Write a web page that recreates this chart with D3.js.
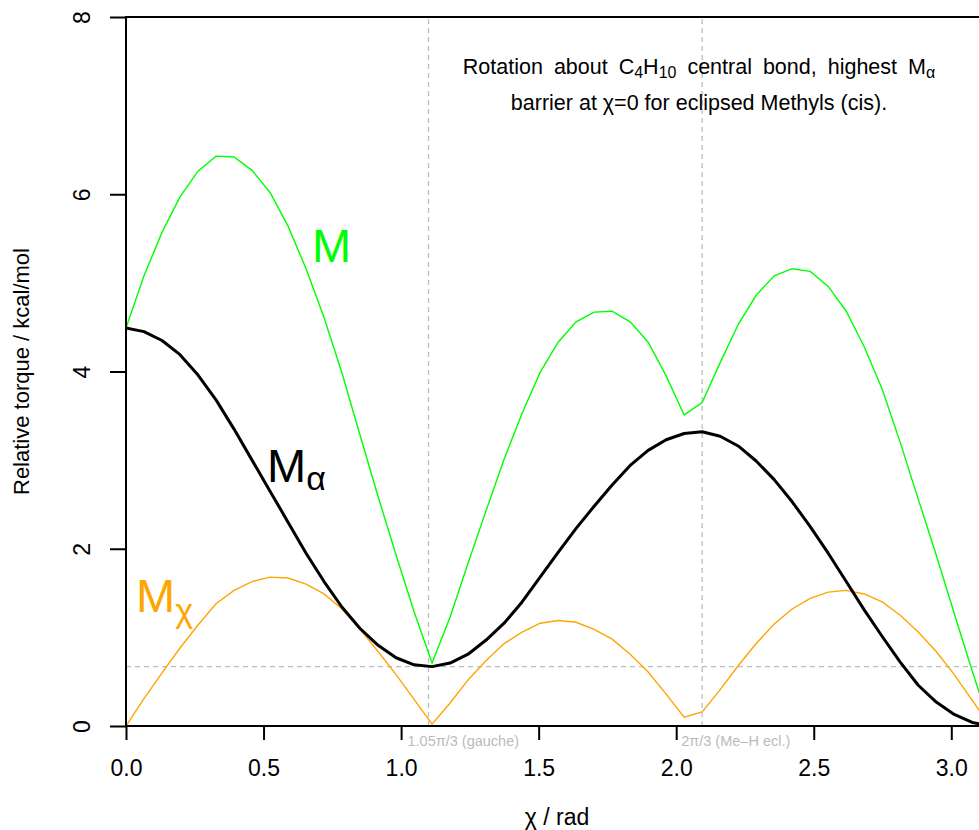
<!DOCTYPE html>
<html>
<head>
<meta charset="utf-8">
<script src="https://cdn.jsdelivr.net/npm/d3@7"></script>
<style>
  html, body { margin: 0; padding: 0; background: #fff; }
  svg { display: block; font-family: "Liberation Sans", Arial, Helvetica, sans-serif; }
</style>
</head>
<body>
<svg id="chart" width="979" height="830"></svg>
<script>
// ---- data ----
const chi = [0, 0.0654, 0.1309, 0.1963, 0.2618, 0.3272, 0.3927, 0.4581, 0.5236, 0.5890,
  0.6545, 0.7199, 0.7854, 0.8508, 0.9163, 0.9817, 1.0472, 1.1126, 1.1781, 1.2435,
  1.3090, 1.3744, 1.4399, 1.5053, 1.5708, 1.6362, 1.7017, 1.7671, 1.8326, 1.8980,
  1.9635, 2.0289, 2.0944, 2.1598, 2.2253, 2.2907, 2.3562, 2.4216, 2.4871, 2.5525,
  2.6180, 2.6834, 2.7489, 2.8143, 2.8798, 2.9452, 3.0107, 3.0761, 3.1416];

const M = [4.49, 5.08, 5.57, 5.97, 6.26, 6.43, 6.42, 6.27, 6.02, 5.64,
  5.16, 4.61, 3.98, 3.28, 2.59, 1.93, 1.29, 0.71, 1.23, 1.84,
  2.43, 3.01, 3.53, 3.99, 4.33, 4.56, 4.67, 4.68, 4.56, 4.33,
  3.95, 3.51, 3.65, 4.10, 4.53, 4.86, 5.08, 5.16, 5.13, 4.96,
  4.68, 4.28, 3.80, 3.20, 2.56, 1.93, 1.27, 0.62, 0.00];

const Malpha = [4.49, 4.45, 4.35, 4.19, 3.96, 3.68, 3.35, 3.00, 2.65, 2.30,
  1.95, 1.63, 1.34, 1.10, 0.91, 0.77, 0.69, 0.67, 0.71, 0.81,
  0.97, 1.16, 1.40, 1.68, 1.96, 2.23, 2.48, 2.72, 2.94, 3.11,
  3.23, 3.30, 3.32, 3.27, 3.16, 2.99, 2.78, 2.53, 2.25, 1.95,
  1.63, 1.31, 1.01, 0.72, 0.46, 0.27, 0.13, 0.04, 0.00];

const Mchi = [0.00, 0.31, 0.60, 0.88, 1.14, 1.38, 1.53, 1.63, 1.68, 1.67,
  1.60, 1.49, 1.32, 1.09, 0.84, 0.58, 0.30, 0.02, 0.26, 0.52,
  0.74, 0.93, 1.06, 1.16, 1.19, 1.17, 1.09, 0.98, 0.81, 0.61,
  0.36, 0.10, 0.16, 0.41, 0.68, 0.93, 1.15, 1.32, 1.44, 1.51,
  1.53, 1.49, 1.40, 1.25, 1.06, 0.84, 0.58, 0.29, 0.00];

const xTicks = [0, 0.5, 1.0, 1.5, 2.0, 2.5, 3.0];
const yTicks = [0, 2, 4, 6, 8];
const refX = [1.0996, 2.0944];              // 1.05π/3 and 2π/3
const refXLabels = ["1.05π/3 (gauche)", "2π/3 (Me–H ecl.)"];
const refY = 0.67;

(function () {
  // ---- layout ----
  const svg = d3.select("#chart");
  const pLeft = 126, pTop = 17, pBottom = 726;
  const xMax = 3.14159;
  const x = d3.scaleLinear().domain([0, xMax]).range([pLeft, pLeft + xMax * 275.1]);
  const y = d3.scaleLinear().domain([0, 8]).range([pBottom, pTop]);

  svg.append("defs").append("clipPath").attr("id", "plotclip")
    .append("rect").attr("x", x(0)).attr("y", y(8)).attr("width", x(xMax) - x(0)).attr("height", y(0) - y(8));

  const plot = svg.append("g").attr("clip-path", "url(#plotclip)");

  // reference dashed lines
  const grey = "#bdbdbd";
  refX.forEach(v => {
    plot.append("line").attr("x1", x(v)).attr("x2", x(v)).attr("y1", y(0)).attr("y2", y(8))
      .attr("stroke", grey).attr("stroke-width", 1.3).attr("stroke-dasharray", "5,4");
  });
  plot.append("line").attr("x1", x(0)).attr("x2", x(xMax)).attr("y1", y(refY)).attr("y2", y(refY))
    .attr("stroke", grey).attr("stroke-width", 1.3).attr("stroke-dasharray", "5,4");

  // curves
  const line = vals => d3.line().x((d, i) => x(chi[i])).y(d => y(d))(vals);
  plot.append("path").attr("d", line(M)).attr("fill", "none").attr("stroke", "#00ff00").attr("stroke-width", 1.4);
  plot.append("path").attr("d", line(Mchi)).attr("fill", "none").attr("stroke", "#ffa500").attr("stroke-width", 1.4);
  plot.append("path").attr("d", line(Malpha)).attr("fill", "none").attr("stroke", "#000").attr("stroke-width", 3)
    .attr("stroke-linejoin", "round");

  // box
  svg.append("rect").attr("x", x(0)).attr("y", y(8)).attr("width", x(xMax) - x(0)).attr("height", y(0) - y(8))
    .attr("fill", "none").attr("stroke", "#000").attr("stroke-width", 2);

  // axes
  const xAxis = d3.axisBottom(x).tickValues(xTicks).tickSize(14).tickPadding(20)
    .tickFormat(d3.format(".1f"));
  const gx = svg.append("g").attr("transform", `translate(0,${pBottom})`).call(xAxis);
  gx.select(".domain").remove();
  gx.selectAll(".tick line").attr("stroke", "#000").attr("stroke-width", 2);
  gx.selectAll(".tick text").attr("font-size", 23).attr("fill", "#000")
    .attr("font-family", "Liberation Sans, Arial, sans-serif");

  const yAxis = d3.axisLeft(y).tickValues(yTicks).tickSize(16).tickPadding(0);
  const gy = svg.append("g").attr("transform", `translate(${pLeft},0)`).call(yAxis);
  gy.select(".domain").remove();
  gy.selectAll(".tick line").attr("stroke", "#000").attr("stroke-width", 2);
  gy.selectAll(".tick text").remove();
  gy.selectAll(".tick").append("text")
    .attr("transform", "translate(-36,0) rotate(-90)")
    .attr("text-anchor", "middle")
    .attr("font-size", 23).attr("fill", "#000")
    .attr("font-family", "Liberation Sans, Arial, sans-serif")
    .text(d => d);

  // reference labels
  refX.forEach((v, i) => {
    svg.append("text").attr("x", x(v) - 21).attr("y", 746)
      .attr("font-size", 14.5).attr("fill", "#bbbbbb").text(refXLabels[i]);
  });

  // axis titles
  svg.append("text").attr("x", 557).attr("y", 825).attr("text-anchor", "middle")
    .attr("font-size", 23).attr("fill", "#000").text("χ / rad");
  svg.append("text").attr("transform", `translate(29,${(pTop + pBottom) / 2}) rotate(-90)`)
    .attr("text-anchor", "middle").attr("font-size", 22).attr("fill", "#000")
    .text("Relative torque / kcal/mol");

  // annotation
  const ann1 = svg.append("text").attr("x", 699).attr("y", 74).attr("text-anchor", "middle")
    .attr("font-size", 21.5).attr("fill", "#000").attr("word-spacing", 5);
  ann1.append("tspan").text("Rotation about C");
  ann1.append("tspan").attr("font-size", 16).attr("dy", 4).text("4");
  ann1.append("tspan").attr("dy", -4).text("H");
  ann1.append("tspan").attr("font-size", 16).attr("dy", 4).text("10");
  ann1.append("tspan").attr("dy", -4).text(" central bond, highest M");
  ann1.append("tspan").attr("font-size", 16).attr("dy", 4).text("α");
  svg.append("text").attr("x", 699).attr("y", 110).attr("text-anchor", "middle")
    .attr("font-size", 21.5).attr("fill", "#000").text("barrier at χ=0 for eclipsed Methyls (cis).");

  // curve labels
  svg.append("text").attr("x", 312).attr("y", 262).attr("font-size", 47).attr("fill", "#00ff00").text("M");
  const la = svg.append("text").attr("x", 267).attr("y", 482).attr("font-size", 47).attr("fill", "#000");
  la.append("tspan").text("M");
  la.append("tspan").attr("font-size", 34).attr("dy", 8).text("α");
  const lc = svg.append("text").attr("x", 136).attr("y", 612).attr("font-size", 47).attr("fill", "#ffa500");
  lc.append("tspan").text("M");
  lc.append("tspan").attr("font-size", 34).attr("dy", 10).text("χ");
})();
</script>
</body>
</html>
